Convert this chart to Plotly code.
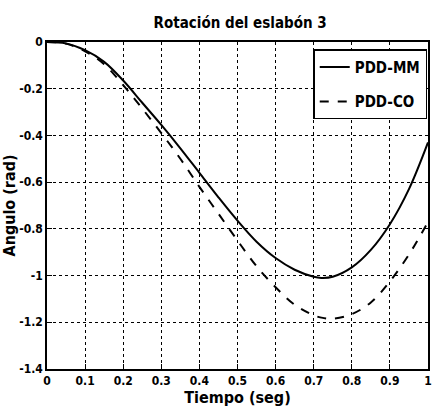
import plotly.graph_objects as go

tiempo = [0, 0.05, 0.1, 0.15, 0.2, 0.25, 0.3, 0.35, 0.4, 0.45, 0.5, 0.55, 0.6,
          0.65, 0.7, 0.72, 0.75, 0.8, 0.85, 0.9, 0.95, 1.0]
pdd_mm = [0, -0.006, -0.035, -0.085, -0.165, -0.26, -0.355, -0.455, -0.56, -0.665,
          -0.765, -0.855, -0.925, -0.975, -1.005, -1.01, -1.005, -0.965, -0.89,
          -0.78, -0.63, -0.43]
pdd_co = [0, -0.007, -0.04, -0.095, -0.185, -0.285, -0.39, -0.5, -0.62, -0.735,
          -0.85, -0.96, -1.05, -1.125, -1.17, -1.18, -1.185, -1.165, -1.115,
          -1.025, -0.91, -0.77]

xticks = [0, 0.1, 0.2, 0.3, 0.4, 0.5, 0.6, 0.7, 0.8, 0.9, 1]
xtick_text = ["0", "0.1", "0.2", "0.3", "0.4", "0.5", "0.6", "0.7", "0.8", "0.9", "1"]
yticks = [0, -0.2, -0.4, -0.6, -0.8, -1, -1.2, -1.4]
ytick_text = ["0", "-0.2", "-0.4", "-0.6", "-0.8", "-1", "-1.2", "-1.4"]

FONT = "DejaVu Sans Condensed, Liberation Sans Narrow, sans-serif"

fig = go.Figure()
fig.add_trace(go.Scatter(x=tiempo, y=pdd_mm, mode="lines", name="PDD-MM",
                         legendgroup="mm",
                         line=dict(color="black", width=2, shape="spline")))
fig.add_trace(go.Scatter(x=tiempo, y=pdd_co, mode="lines", name="PDD-CO",
                         legendgroup="co",
                         line=dict(color="black", width=2, dash="dash", shape="spline")))

axis_common = dict(showline=True, mirror=True, linecolor="black", linewidth=1.5,
                   ticks="inside", ticklen=5, tickcolor="black",
                   showgrid=True, gridcolor="black", griddash="dot", gridwidth=1,
                   zeroline=False,
                   tickfont=dict(family=FONT, size=12, color="black", weight="bold"))

fig.update_layout(
    width=435, height=419,
    margin=dict(l=47, r=3, t=42, b=50),
    paper_bgcolor="white", plot_bgcolor="white",
    title=dict(text="Rotación del eslabón 3", x=0.552, xanchor="center", y=0.945,
               yanchor="middle",
               font=dict(family=FONT, size=15, color="black", weight="bold")),
    xaxis=dict(range=[0, 1], tickvals=xticks, ticktext=xtick_text,
               title=dict(text="Tiempo (seg)", standoff=2,
                          font=dict(family=FONT, size=16, color="black", weight="bold")),
               **axis_common),
    yaxis=dict(range=[-1.4, 0], tickvals=yticks, ticktext=ytick_text,
               title=dict(text="Angulo (rad)", standoff=4,
                          font=dict(family=FONT, size=16, color="black", weight="bold")),
               **axis_common),
    legend=dict(x=0.998, y=0.978, xanchor="right", yanchor="top",
                bgcolor="white", bordercolor="black", borderwidth=1.5,
                font=dict(family=FONT, size=15, color="black", weight="bold"),
                itemwidth=30, tracegroupgap=12),
    showlegend=True,
)

fig.write_html("out.html")
